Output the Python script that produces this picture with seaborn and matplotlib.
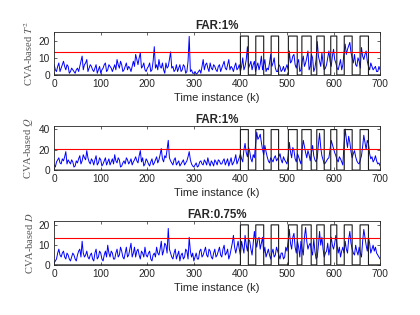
import numpy as np
import pandas as pd
import matplotlib
matplotlib.use("Agg")
import matplotlib.pyplot as plt
import seaborn as sns

# monitoring statistics: samples at k = 0, 5, ..., 700
# plus the in-between samples at k = 2.5, 7.5, ..., 697.5
t2_even = [6, 2, 7, 4, 8, 3, 5, 2, 3, 1, 4, 5, 11, 6, 9, 4, 5, 2, 6, 3,
           1, 4, 7, 3, 5, 2, 6, 9, 4, 6, 3, 7, 5, 2, 8, 12, 6, 13, 5, 3,
           4, 7, 3, 16.5, 6, 9, 4, 3, 7, 5, 13.5, 5, 3, 2, 6, 3, 5, 2, 22.5, 3,
           1, 0.5, 2, 1, 9, 6, 4, 7, 3, 5, 2, 6, 4, 8, 3, 9, 5, 2, 7, 4,
           2, 10, 5, 16.5, 6, 3, 8, 5, 3, 11, 6, 2, 3, 12, 7, 4, 2, 5, 3, 2,
           6, 14, 8, 12, 4, 9, 3, 11, 7, 14, 5, 10, 4, 19.5, 8, 13, 3, 6, 14, 5,
           15, 7, 3, 9, 6, 18, 15, 19, 10, 12, 5, 8, 16, 9, 14, 5, 7, 3, 5, 2,
           3]
t2_mid = [3, 5, 2, 6, 5, 6, 1, 4, 2, 3, 2, 8, 3, 7, 2, 6, 3, 4, 1, 5,
          3, 6, 2, 6, 4, 4, 3, 6, 8, 2, 5, 3, 4, 5, 5, 9, 10, 4, 7, 2,
          5, 2, 8, 4, 3, 5, 7, 1, 4, 9, 4, 2, 6, 4, 2, 6, 1, 8, 2, 1,
          2, 1, 3, 5, 3, 7, 2, 4, 6, 3, 5, 2, 6, 4, 6, 3, 4, 5, 3, 6,
          5, 3, 9, 4, 8, 6, 2, 7, 6, 3, 9, 4, 7, 5, 10, 2, 6, 2, 5, 4,
          3, 7, 11, 6, 7, 2, 8, 5, 10, 3, 12, 2, 9, 11, 5, 7, 4, 10, 8, 11,
          9, 4, 6, 3, 13, 12, 17, 13, 7, 6, 10, 4, 11, 12, 8, 3, 5, 4, 2, 5]

q_even = [5, 8, 12, 6, 9, 18, 10, 6, 8, 4, 7, 14, 9, 12, 19, 8, 11, 5, 14, 7,
          10, 6, 12, 8, 5, 11, 15, 7, 10, 4, 9, 12, 6, 11, 8, 13, 7, 19, 12, 6,
          9, 4, 11, 7, 13, 10, 21, 8, 12, 29, 9, 5, 12, 7, 4, 8, 5, 9, 18, 6,
          3, 7, 4, 9, 5, 8, 12, 4, 7, 10, 5, 9, 6, 11, 8, 4, 12, 7, 15, 9,
          16, 8, 26, 13, 18, 8, 12, 37, 32, 27, 15, 18, 9, 12, 8, 14, 11, 16, 7, 10,
          6, 27, 12, 19, 8, 13, 6, 29, 17, 19, 9, 24, 10, 12, 36, 14, 6, 9, 12, 29,
          21, 14, 8, 11, 5, 40, 22, 27, 12, 19, 9, 6, 14, 34, 20, 26, 11, 8, 14, 6,
          4]
q_mid = [3, 10, 7, 11, 13, 6, 8, 10, 3, 9, 11, 6, 15, 10, 12, 6, 9, 10, 5, 12,
         4, 9, 5, 11, 8, 6, 9, 12, 3, 7, 6, 10, 8, 5, 10, 9, 14, 8, 4, 11,
         6, 8, 5, 10, 7, 15, 11, 14, 20, 12, 7, 10, 5, 9, 6, 10, 7, 13, 10, 4,
         5, 3, 8, 6, 10, 5, 7, 9, 4, 8, 10, 6, 9, 5, 11, 8, 5, 10, 6, 12,
         11, 20, 17, 22, 11, 15, 24, 30, 35, 20, 24, 13, 7, 10, 12, 9, 13, 10, 13, 8,
         14, 18, 22, 11, 16, 9, 20, 23, 12, 15, 17, 14, 8, 25, 22, 10, 7, 11, 20, 25,
         17, 10, 13, 8, 25, 30, 33, 18, 16, 13, 7, 10, 23, 27, 29, 16, 13, 10, 9, 7]

d_even = [1, 3, 8, 4, 7, 3, 5, 2, 6, 3, 5, 8, 12, 4, 7, 3, 6, 2, 8, 4,
          6, 2, 7, 10, 4, 6, 3, 8, 5, 7, 3, 9, 5, 11, 6, 4, 8, 3, 6, 9,
          4, 7, 2, 6, 9, 5, 12, 7, 10, 18.5, 6, 3, 8, 5, 2, 6, 4, 7, 14, 4,
          2, 6, 3, 8, 5, 9, 4, 7, 3, 8, 5, 9, 4, 10, 6, 3, 8, 15, 6, 12,
          5, 9, 15, 7, 12, 5, 17, 9, 14, 11, 6, 4, 8, 3, 8, 5, 7, 3, 6, 4,
          7, 18, 8, 16, 6, 9, 12, 5, 19, 8, 11, 5, 7, 4, 17, 14, 4, 7, 5, 14,
          8, 15, 6, 4, 9, 12, 6, 17, 8, 5, 7, 9, 4, 18, 10, 14, 6, 10, 9, 5,
          3]
d_mid = [2, 6, 5, 6, 4, 6, 3, 4, 5, 2, 7, 4, 6, 5, 4, 5, 3, 6, 3, 7,
         3, 5, 4, 6, 7, 3, 6, 4, 9, 4, 6, 4, 8, 4, 9, 7, 5, 7, 4, 5,
         6, 3, 5, 4, 6, 8, 5, 11, 6, 8, 4, 6, 3, 7, 5, 3, 8, 3, 7, 6,
         4, 3, 7, 4, 7, 5, 8, 4, 6, 4, 7, 5, 8, 5, 8, 5, 11, 9, 9, 8,
         12, 6, 10, 13, 8, 11, 12, 13, 8, 14, 9, 6, 5, 6, 4, 9, 5, 6, 3, 9,
         12, 11, 14, 9, 12, 4, 8, 14, 12, 10, 7, 13, 3, 10, 10, 8, 6, 11, 9, 10,
         11, 10, 9, 7, 6, 8, 13, 11, 6, 10, 5, 6, 12, 14, 7, 11, 8, 7, 6, 4]

fault_start = [400, 433, 466, 503, 532, 564, 594, 623, 657]
fault_end = [417, 450, 482, 522, 552, 580, 607, 640, 675]

titles = ["FAR:1%", "FAR:1%", "FAR:0.75%"]
ylabels = [r"CVA-based $T^2$", r"CVA-based $Q$", r"CVA-based $D$"]
limits = [13.2, 20.3, 13.6]
pulse_top = [22.7, 39.5, 20.3]
ytop = [25, 43, 22.2]
yticks = [[0, 10, 20], [0, 20, 40], [0, 10, 20]]


def merge(even, mid):
    out = np.empty(len(even) + len(mid))
    out[0::2] = even
    out[1::2] = mid
    return out


series = [merge(t2_even, t2_mid), merge(q_even, q_mid), merge(d_even, d_mid)]

sns.set_theme(style="ticks")
plt.rcParams["font.family"] = ["Liberation Sans", "DejaVu Sans"]
plt.rcParams["mathtext.fontset"] = "stix"

fig = plt.figure(figsize=(4.2, 3.15), dpi=100)
boxes = [[0.129, 0.762, 0.776, 0.136],
         [0.129, 0.460, 0.776, 0.140],
         [0.129, 0.159, 0.776, 0.139]]

k_grid = np.arange(0, 701)
fault = np.zeros_like(k_grid, dtype=float)
for s, e in zip(fault_start, fault_end):
    fault[(k_grid >= s) & (k_grid < e)] = 1.0

for i, vals in enumerate(series):
    ax = fig.add_axes(boxes[i])
    df = pd.DataFrame({"k": np.linspace(0, 700, len(vals)), "v": vals})
    sns.lineplot(data=df, x="k", y="v", ax=ax, color="#0000ff", lw=0.7,
                 estimator=None, sort=False)
    ax.plot(k_grid, fault * pulse_top[i], color="#1a1a1a", lw=0.8,
            drawstyle="steps-post")
    ax.axhline(limits[i], color="#ff0000", lw=0.8)
    ax.set_xlim(0, 700)
    ax.set_ylim(0, ytop[i])
    ax.set_xticks(range(0, 701, 100))
    ax.set_yticks(yticks[i])
    ax.tick_params(direction="in", length=2, width=0.5, labelsize=7.3,
                   colors="#262626", top=True, right=True, pad=3)
    for sp in ax.spines.values():
        sp.set_linewidth(0.6)
        sp.set_color("#262626")
    ax.set_title(titles[i], fontsize=8.3, fontweight="bold", pad=2.5)
    ax.set_xlabel("Time instance (k)", fontsize=8, color="#262626", labelpad=3)
    ax.set_ylabel(ylabels[i], fontsize=7.6, color="#555555",
                  family="Liberation Serif", labelpad=3)

fig.savefig("out.png", dpi=100)
